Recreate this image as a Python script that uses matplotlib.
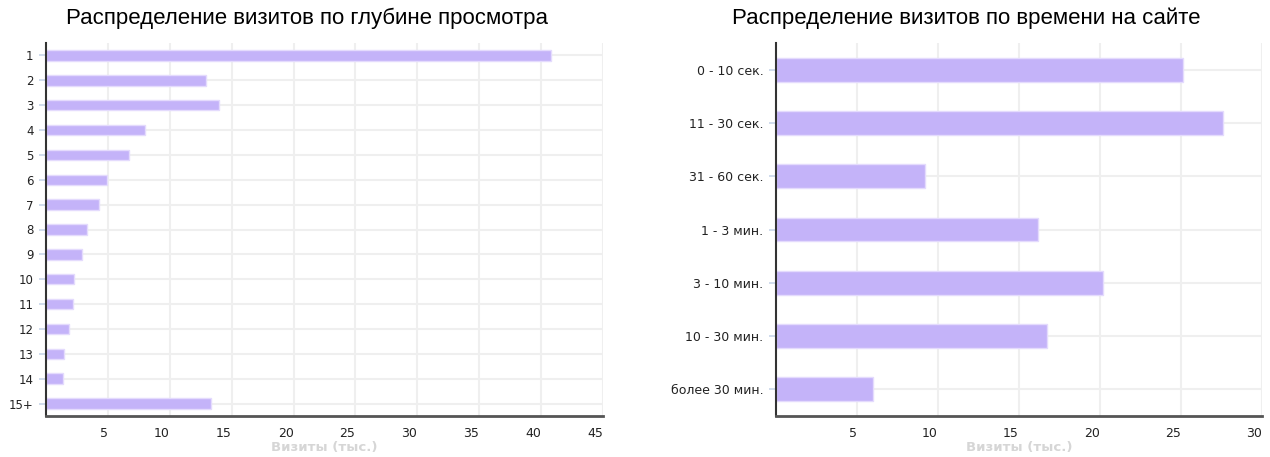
import numpy as np
import matplotlib as mpl
import matplotlib.pyplot as plt

mpl.rcParams['font.family'] = ['DejaVu Sans']

#-- depth of view (pages per visit), visits in thousands
depth_labels = ['1', '2', '3', '4', '5', '6', '7', '8', '9', '10', '11', '12', '13', '14', '15+']
depth_visits = [40.8, 12.95, 14.0, 8.0, 6.7, 4.9, 4.25, 3.3, 2.9, 2.3, 2.15, 1.85, 1.45, 1.35, 13.3]

#-- time on site, visits in thousands
time_labels = ['0 - 10 сек.', '11 - 30 сек.', '31 - 60 сек.', '1 - 3 мин.',
               '3 - 10 мин.', '10 - 30 мин.', 'более 30 мин.']
time_visits = [25.1, 27.6, 9.2, 16.2, 20.2, 16.7, 6.0]

depth_ticks = [5, 10, 15, 20, 25, 30, 35, 40, 45]
time_ticks = [5, 10, 15, 20, 25, 30]

bar_color = '#c4b3f9'
edge_color = '#e4dbfd'
grid_color = '#efefef'
xlabel_text = 'Визиты (тыс.)'

fig = plt.figure(figsize=(12.7, 4.57), dpi=100)
ax1 = fig.add_axes([46/1270, 1-416/457, (603-46)/1270, (416-43)/457])
ax2 = fig.add_axes([776/1270, 1-416/457, (1262-776)/1270, (416-43)/457])


def style_axes(ax, labels, values, xmax, xticks, height, ysize):
    y = np.arange(len(labels))
    ax.set_axisbelow(True)
    ax.barh(y, values, height=height, color=bar_color, edgecolor=edge_color, linewidth=1)
    ax.set_ylim(len(labels) - 0.5, -0.5)
    ax.set_xlim(0, xmax)
    ax.set_yticks(y)
    ax.set_yticklabels(labels, fontsize=ysize, color='#222222')
    ax.set_xticks(xticks)
    ax.set_xticklabels([str(t) for t in xticks], fontsize=9, color='#222222', ha='right')
    ax.grid(True, color=grid_color, linewidth=1.5)
    ax.tick_params(axis='y', length=5, width=1.2, color='#c8d6ea', pad=4)
    ax.tick_params(axis='x', length=0, pad=8)
    for s in ['top', 'right']:
        ax.spines[s].set_visible(False)
    ax.spines['left'].set_color('#333333')
    ax.spines['left'].set_linewidth(1.5)
    ax.spines['bottom'].set_color('#555555')
    ax.spines['bottom'].set_linewidth(2)
    ax.set_xlabel(xlabel_text, fontsize=9.5, fontweight='bold', color='#d6d6d6', labelpad=1)


style_axes(ax1, depth_labels, depth_visits, 45, depth_ticks, 0.42, 8.5)
style_axes(ax2, time_labels, time_visits, 30, time_ticks, 0.45, 9)

fig.text(307/1270, 1-18/457, 'Распределение визитов по глубине просмотра',
         ha='center', va='center', fontsize=16, family='Liberation Sans')
fig.text(966/1270, 1-18/457, 'Распределение визитов по времени на сайте',
         ha='center', va='center', fontsize=16, family='Liberation Sans')

fig.savefig('out.png', dpi=100)
